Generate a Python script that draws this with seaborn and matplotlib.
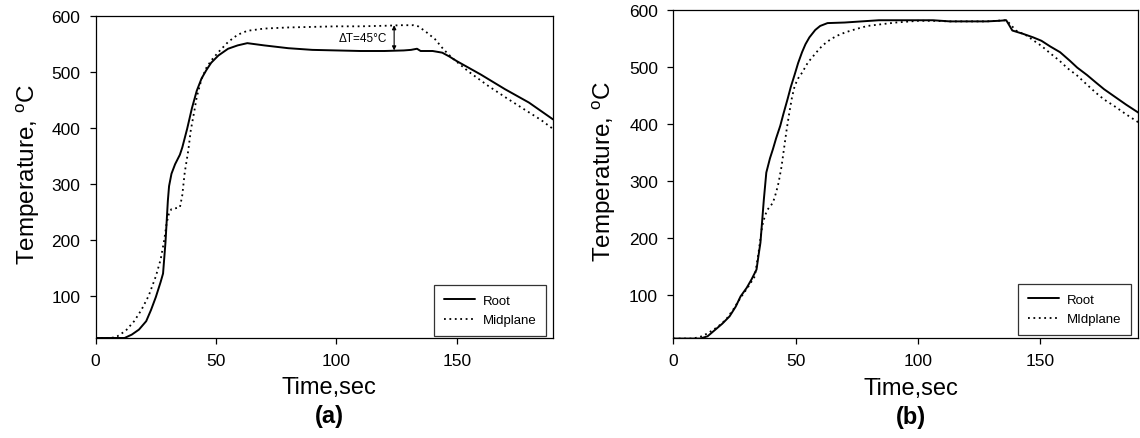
import matplotlib
matplotlib.use("Agg")
import matplotlib.pyplot as plt
import seaborn as sns
import pandas as pd

# ---- data -------------------------------------------------------------
# Panel (a)
root_a_time = [0, 12, 15, 18, 21, 23, 25, 27, 28, 29, 30, 30.5, 31.5, 33, 35, 36, 38,
               40, 42, 44, 46, 48, 51, 55, 59, 63, 70, 80, 90, 100, 110, 120, 128, 131,
               133.5, 135, 140, 144, 147, 150, 155, 160, 165, 170, 175, 180, 185, 190]
root_a_temp = [25, 25, 31, 40, 55, 75, 98, 125, 140, 195, 270, 296, 318, 335, 352, 365, 398,
               435, 466, 488, 503, 516, 529, 541, 547, 551, 547, 542, 539, 538, 537, 537, 538, 539,
               541, 537, 537, 534, 527, 519, 507, 495, 482, 469, 457, 445, 430, 415]

mid_a_time = [0, 6.5, 9, 12.5, 16, 19, 22, 25, 27, 28.5, 29.5, 30.5, 31.5, 35, 36, 37, 38.5,
              39.5, 41, 42, 44, 46, 48, 51, 55, 59, 63, 70, 80, 90, 100, 110, 120, 127, 132,
              134, 137, 141, 144.5, 148, 155, 163, 170, 178, 185, 190]
mid_a_temp = [25, 25, 28, 38, 55, 75, 100, 135, 165, 200, 230, 248, 255, 258, 280, 320, 360,
              395, 430, 455, 487, 507, 520, 535, 553, 566, 573, 577, 579, 580, 581, 581, 582, 583, 583,
              581, 572, 558, 540, 525, 500, 475, 455, 433, 414, 398]

# Panel (b)
root_b_time = [0, 11, 14, 17, 20, 23, 25.5, 27.5, 30, 32, 34, 35, 35.6, 36.3, 37, 38, 39.5,
               40.7, 42, 43.7, 45, 46.7, 48, 49.6, 51, 52.6, 54, 55.6, 58, 60, 63, 70, 77, 84,
               95, 106, 113, 120, 128, 133, 136, 137, 138.5, 143, 147, 150.4, 154, 158, 162,
               165, 169, 172.6, 176, 180, 185, 190]
root_b_temp = [24, 24, 28, 39, 50, 63, 80, 98, 113, 128, 145, 175, 192, 230, 268, 315, 340,
               356, 375, 397, 418, 444, 465, 487, 507, 526, 540, 552, 565, 572, 577, 578, 580, 582,
               582, 582, 580, 580, 580, 581, 582, 575, 564, 558, 552, 546, 536, 526, 511,
               499, 486, 473, 461, 449, 434, 420]

mid_b_time = [0, 8, 11, 14, 18, 21.5, 24.5, 27.4, 30.5, 33.3, 34.8, 36.3, 37.5, 38.5, 40.7,
              42, 43, 44.2, 45.2, 46.3, 47.4, 48.5, 49.6, 51, 52.6, 55, 58.5, 61, 64.4, 67,
              70.4, 75, 79.3, 85, 91, 100, 106, 113, 120, 128, 135.6, 137, 140, 144.4, 147,
              150.4, 154, 157.8, 161, 165, 169, 172.6, 176, 180, 185, 190]
mid_b_temp = [24, 24, 27, 33, 44, 57, 75, 95, 114, 133, 174, 221, 240, 250, 262,
              280, 297, 325, 356, 390, 420, 447, 467, 480, 490, 508, 526, 538, 549, 555,
              561, 567, 572, 575, 578, 581, 581, 580, 580, 580, 582, 578, 564, 555, 547,
              537, 524, 511, 498, 485, 469, 455, 443, 432, 417, 403]

series_names = ["Root", "Midplane"]
legend_b_names = ["Root", "MIdplane"]
delta_label = "\u0394T=45\u00b0C"
delta_time = 124
delta_top, delta_bottom = 583, 538

# ---- style ------------------------------------------------------------
sns.set_theme(style="ticks")
plt.rcParams["font.family"] = ["Liberation Sans", "DejaVu Sans"]
plt.rcParams["mathtext.fontset"] = "custom"
plt.rcParams["mathtext.rm"] = "Liberation Sans"
plt.rcParams["axes.edgecolor"] = "black"
plt.rcParams["axes.linewidth"] = 0.9
plt.rcParams["axes.labelcolor"] = "black"
plt.rcParams["text.color"] = "black"
plt.rcParams["xtick.color"] = "black"
plt.rcParams["ytick.color"] = "black"
plt.rcParams["xtick.labelcolor"] = "black"
plt.rcParams["ytick.labelcolor"] = "black"

fig = plt.figure(figsize=(11.4, 4.39), dpi=100)
ax_a = fig.add_axes([0.0839, 0.2278, 0.4012, 0.7342])
ax_b = fig.add_axes([0.5906, 0.2278, 0.4080, 0.7472])


def draw_panel(ax, t_root, y_root, t_mid, y_mid, names, tag, legend_anchor):
    df_root = pd.DataFrame({"time": t_root, "temp": y_root})
    df_mid = pd.DataFrame({"time": t_mid, "temp": y_mid})
    sns.lineplot(data=df_root, x="time", y="temp", ax=ax, color="black",
                 linewidth=1.4, estimator=None, sort=False, label=names[0])
    sns.lineplot(data=df_mid, x="time", y="temp", ax=ax, color="black",
                 linewidth=1.3, estimator=None, sort=False, label=names[1],
                 linestyle=(0, (1, 2)))
    ax.set_xlim(0, 190)
    ax.set_ylim(25, 600)
    ax.set_xticks([0, 50, 100, 150])
    ax.set_yticks([100, 200, 300, 400, 500, 600])
    ax.tick_params(axis="both", direction="out", length=4, width=0.9,
                   labelsize=12.5, pad=7, labelcolor="black")
    for sp in ax.spines.values():
        sp.set_visible(True)
        sp.set_color("black")
    ax.set_xlabel("Time,sec", fontsize=17, va="center", color="black")
    ax.xaxis.set_label_coords(0.51, -0.153)
    ax.set_ylabel(r"Temperature, $^{\mathregular{o}}$C", fontsize=17.5,
                  va="center", color="black")
    ax.yaxis.set_label_coords(-0.148, 0.51)
    ax.text(0.51, -0.24, tag, transform=ax.transAxes, ha="center", va="center",
            fontsize=17, fontweight="bold", color="black")
    leg = ax.legend(loc="lower right", bbox_to_anchor=legend_anchor,
                    borderaxespad=0, fontsize=9.5, handlelength=2.3,
                    fancybox=False, frameon=True, labelspacing=0.55,
                    borderpad=0.75, handletextpad=0.6)
    leg.get_frame().set_edgecolor("black")
    leg.get_frame().set_linewidth(0.9)
    for txt in leg.get_texts():
        txt.set_color("black")


draw_panel(ax_a, root_a_time, root_a_temp, mid_a_time, mid_a_temp,
           series_names, "(a)", (0.985, 0.006))
draw_panel(ax_b, root_b_time, root_b_temp, mid_b_time, mid_b_temp,
           legend_b_names, "(b)", (0.984, 0.008))

# temperature difference marker on panel (a)
ax_a.annotate("", xy=(delta_time, delta_bottom), xytext=(delta_time, delta_top),
              arrowprops=dict(arrowstyle="<|-|>", color="black", lw=0.8,
                              mutation_scale=6, shrinkA=0, shrinkB=0))
ax_a.text(delta_time - 3, (delta_top + delta_bottom) / 2, delta_label,
          ha="right", va="center", fontsize=8.5, color="black")

fig.savefig("out.png", dpi=100)
